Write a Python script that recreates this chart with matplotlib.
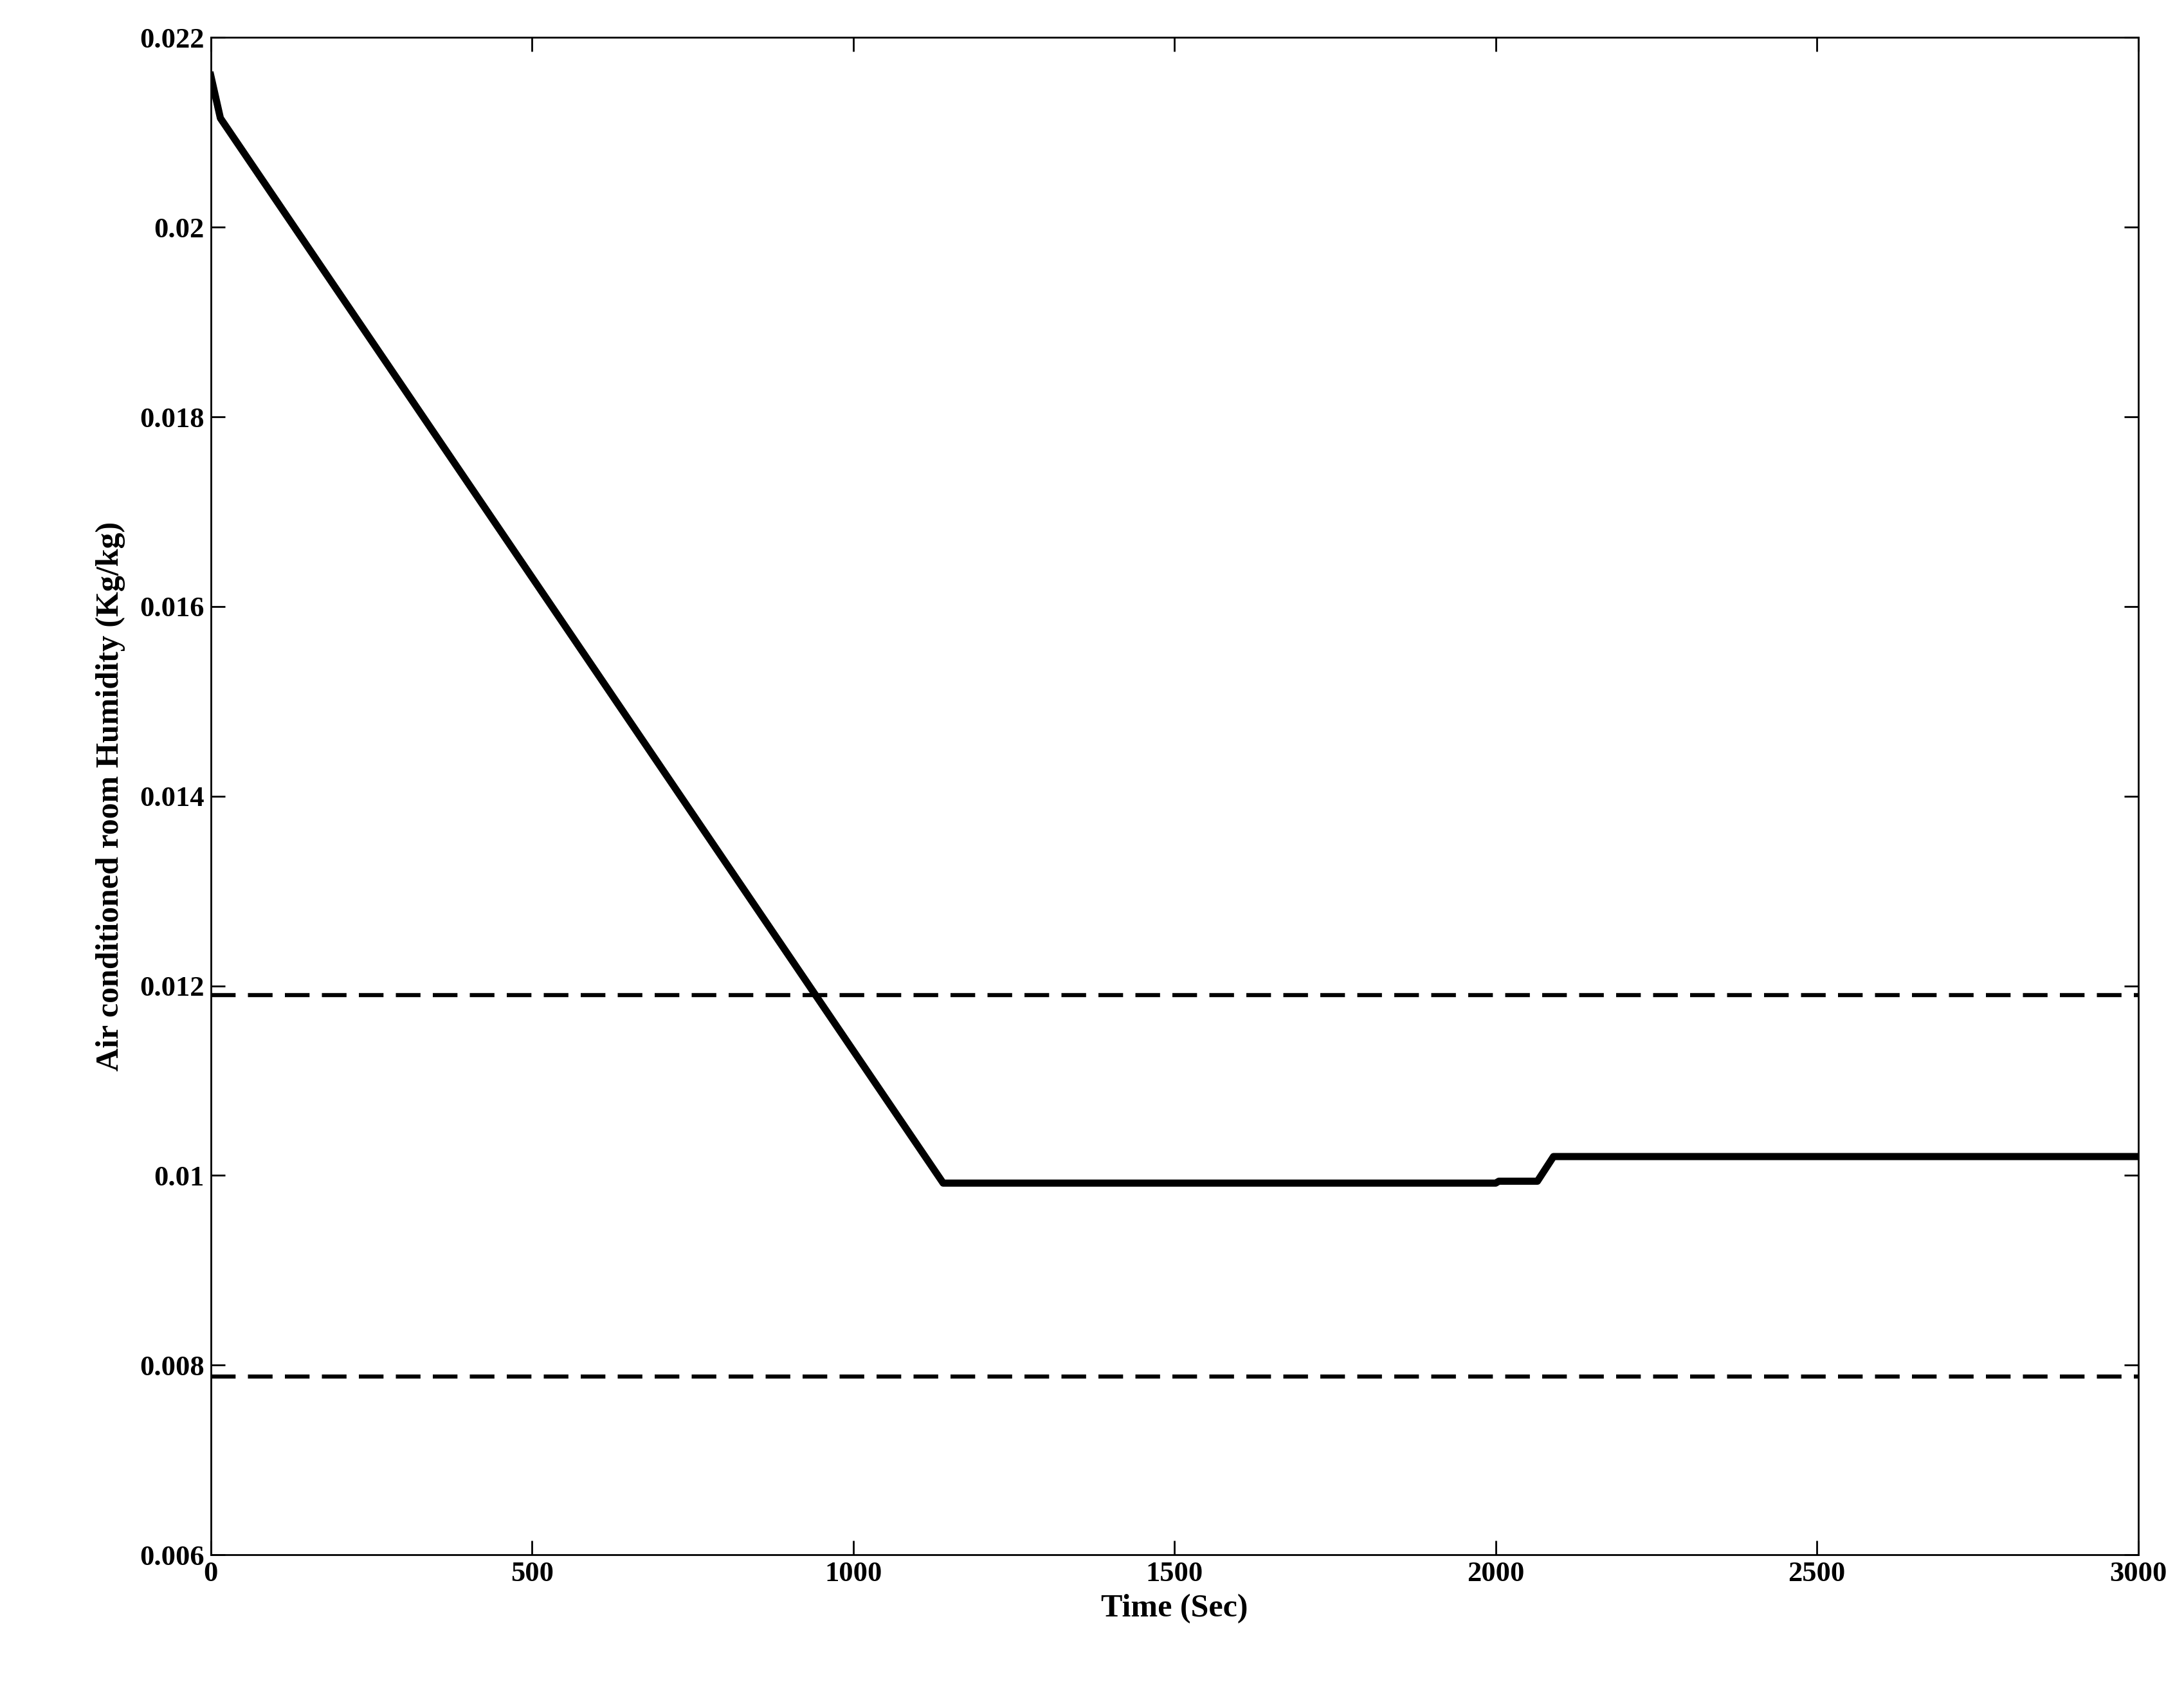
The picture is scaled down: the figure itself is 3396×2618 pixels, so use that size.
import matplotlib
matplotlib.use("Agg")
import matplotlib.pyplot as plt

time = [0, 15, 1140, 2000, 2005, 2065, 2090, 3000]
humidity = [0.0216, 0.02115, 0.00992, 0.00992, 0.00994, 0.00994, 0.0102, 0.0102]
upper_limit = 0.0119
lower_limit = 0.00788
xticks = [0, 500, 1000, 1500, 2000, 2500, 3000]
yticks = [0.006, 0.008, 0.01, 0.012, 0.014, 0.016, 0.018, 0.02, 0.022]
yticklabels = ["0.006", "0.008", "0.01", "0.012", "0.014", "0.016", "0.018", "0.02", "0.022"]

plt.rcParams['font.family'] = ['Liberation Serif']
plt.rcParams['font.weight'] = 'bold'
fig = plt.figure(figsize=(16.98, 13.09), dpi=200)
ax = fig.add_axes([0.0965, 0.0767, 0.8825, 0.901])
ax.plot(time, humidity, color='black', lw=4)
ax.axhline(upper_limit, color='black', lw=2.3, ls=(0, (6, 3)))
ax.axhline(lower_limit, color='black', lw=2.3, ls=(0, (6, 3)))
ax.set_xlim(0, 3000)
ax.set_ylim(0.006, 0.022)
ax.set_xticks(xticks)
ax.set_yticks(yticks)
ax.set_yticklabels(yticklabels)
ax.tick_params(direction='in', top=True, right=True, labelsize=16, length=8, width=1)
for s in ax.spines.values():
    s.set_linewidth(1)
ax.set_xlabel('Time (Sec)', fontsize=18, fontweight='bold', labelpad=4)
ax.set_ylabel('Air conditioned room Humidity (Kg/kg)', fontsize=18, fontweight='bold', labelpad=8)
fig.savefig('out.png', dpi=200)
